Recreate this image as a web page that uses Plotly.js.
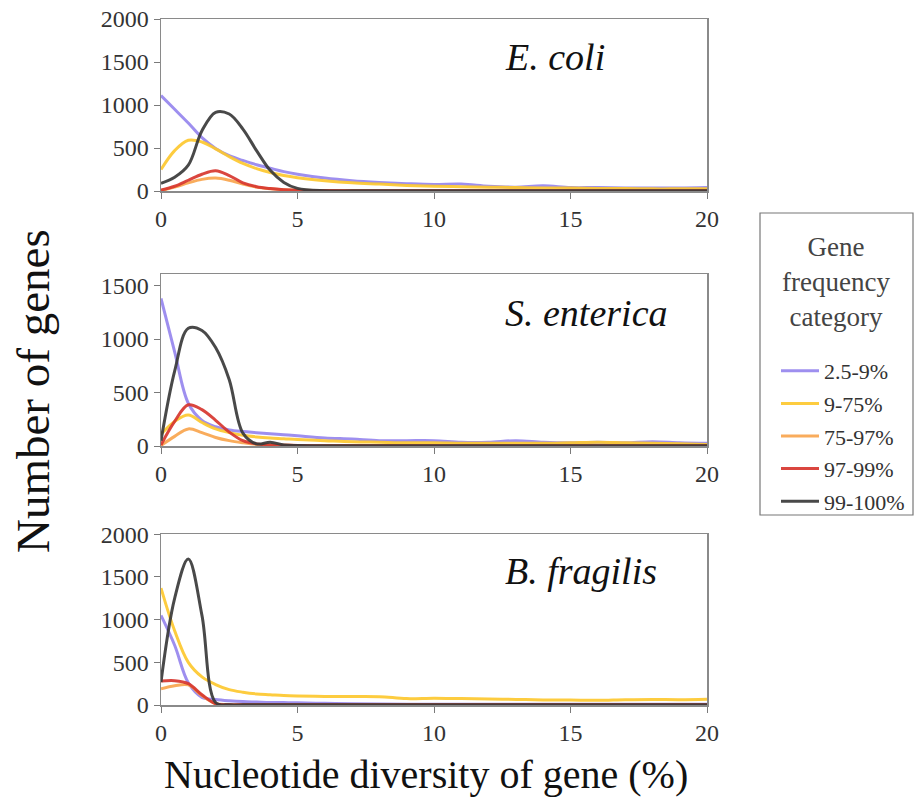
<!DOCTYPE html>
<html>
<head>
<meta charset="utf-8">
<script src="https://cdn.plot.ly/plotly-3.0.1.min.js"></script>
<style>html,body{margin:0;padding:0;background:#fff;}#chart{width:916px;height:808px;}</style>
</head>
<body>
<div id="chart"></div>
<script>
// Nucleotide diversity of gene (%)
const diversity = [0,0.5,1,1.5,2,2.5,3,3.5,4,4.5,5,6,7,8,9,10,11,12,13,14,15,16,17,18,19,20];
const categories = ["2.5-9%","9-75%","75-97%","97-99%","99-100%"];
const species = ["E. coli","S. enterica","B. fragilis"];
const legendTitle = "Gene<br>frequency<br>category";

// E. coli
const ecoli_2_5_9   = [1110,950,790,620,495,410,355,305,265,225,195,150,120,100,85,75,80,55,45,60,40,40,35,35,35,40];
const ecoli_9_75    = [250,470,590,570,490,400,320,260,215,180,155,120,95,80,65,55,50,45,40,35,35,30,30,25,25,25];
const ecoli_75_97   = [5,45,95,135,150,125,80,45,25,15,10,5,3,3,3,3,3,3,3,3,3,3,3,3,3,3];
const ecoli_97_99   = [10,55,125,195,235,180,95,50,28,15,8,5,3,3,3,3,3,3,3,3,3,3,3,3,3,3];
const ecoli_99_100  = [90,160,300,700,915,895,720,470,240,100,30,3,2,2,2,2,2,2,2,2,2,2,2,2,2,2];

// S. enterica
const sent_2_5_9    = [1380,880,400,240,180,150,135,125,115,105,95,75,65,50,50,50,35,35,50,35,30,35,30,40,30,25];
const sent_9_75     = [110,230,290,220,160,125,100,85,75,68,60,50,40,35,30,30,25,25,25,25,30,35,30,25,20,15];
const sent_75_97    = [5,90,160,125,80,50,30,15,10,7,5,3,3,3,3,3,3,3,3,3,3,3,3,3,3,3];
const sent_97_99    = [10,230,385,340,240,130,50,20,10,7,5,3,3,3,3,3,3,3,3,3,3,3,3,3,3,3];
const sent_99_100   = [50,700,1100,1080,920,620,120,20,35,10,5,3,2,2,2,2,2,2,2,2,2,2,2,2,2,2];

// B. fragilis
const bfrag_2_5_9   = [1050,700,260,90,65,50,40,35,30,28,25,20,15,12,10,10,10,10,10,10,10,10,10,10,10,10];
const bfrag_9_75    = [1370,870,500,330,240,180,150,130,120,110,105,100,100,98,75,80,75,70,65,60,58,55,62,65,62,68];
const bfrag_75_97   = [190,225,235,110,15,5,2,2,2,2,2,2,2,2,2,2,2,2,2,2,2,2,2,2,2,2];
const bfrag_97_99   = [280,285,250,120,15,2,2,2,2,2,2,2,2,2,2,2,2,2,2,2,2,2,2,2,2,2];
const bfrag_99_100  = [270,1250,1710,1050,30,2,2,2,2,2,2,2,2,2,2,2,2,2,2,2,2,2,2,2,2,2];

const colors = ["#9686ee","#fdc82f","#f9a54e","#d7362f","#3a3a3a"];
const panels = [
  [ecoli_2_5_9, ecoli_9_75, ecoli_75_97, ecoli_97_99, ecoli_99_100],
  [sent_2_5_9, sent_9_75, sent_75_97, sent_97_99, sent_99_100],
  [bfrag_2_5_9, bfrag_9_75, bfrag_75_97, bfrag_97_99, bfrag_99_100]
];

const serif = "Liberation Serif";
const traces = [];
panels.forEach((series, p) => {
  series.forEach((vals, i) => {
    traces.push({
      type: "scatter", mode: "lines",
      x: diversity, y: vals,
      name: categories[i],
      legendgroup: categories[i],
      showlegend: p === 0,
      line: {color: colors[i], width: 3, shape: "spline", smoothing: 1},
      opacity: 0.92,
      xaxis: p === 0 ? "x" : "x" + (p + 1),
      yaxis: p === 0 ? "y" : "y" + (p + 1),
      hoverinfo: "skip"
    });
  });
});

// pixel helpers for layout placement (plot area 161..707 x 19..705)
const L = 161, R = 707, T = 19, B = 705;
const W = 916, H = 808;
const px = x => (x - L) / (R - L);
const py = y => (B - y) / (B - T);

function xAxis(anchor) {
  return {
    domain: [0, 1], anchor: anchor,
    range: [0, 20], tickvals: [0,5,10,15,20], ticks: "outside", ticklen: 6,
    tickcolor: "#7a7a7a", showline: true, linecolor: "#8a8a8a", linewidth: 1.5,
    mirror: true, showgrid: false, zeroline: false, fixedrange: true,
    tickfont: {family: serif, size: 24, color: "#333"}
  };
}
function yAxis(anchor, top, bottom, max, vals) {
  return {
    domain: [py(bottom), py(top)], anchor: anchor, range: [0, max], tickvals: vals,
    ticks: "outside", ticklen: 6, tickcolor: "#7a7a7a", showline: true,
    linecolor: "#8a8a8a", linewidth: 1.5, mirror: true, showgrid: false,
    zeroline: false, fixedrange: true,
    tickfont: {family: serif, size: 24, color: "#333"}
  };
}

const layout = {
  width: W, height: H,
  margin: {l: L, r: W - R, t: T, b: H - B, autoexpand: false},
  paper_bgcolor: "#fff", plot_bgcolor: "#fff",
  font: {family: serif, size: 24, color: "#333"},
  showlegend: true,
  legend: {
    xref: "container", yref: "container",
    x: 776 / W, xanchor: "left", y: 1 - 350 / H, yanchor: "top",
    bgcolor: "rgba(0,0,0,0)", borderwidth: 0,
    traceorder: "grouped", tracegroupgap: 1, itemwidth: 38,
    font: {family: serif, size: 22, color: "#333"}
  },
  xaxis:  xAxis("y"),
  xaxis2: xAxis("y2"),
  xaxis3: xAxis("y3"),
  yaxis:  yAxis("x", 19, 191, 2000, [0,500,1000,1500,2000]),
  yaxis2: yAxis("x2", 274, 446, 1608, [0,500,1000,1500]),
  yaxis3: yAxis("x3", 534.3, 705, 2000, [0,500,1000,1500,2000]),
  shapes: [
    {type: "rect", xref: "paper", yref: "paper", x0: px(760), x1: px(913), y0: py(515), y1: py(213),
     line: {color: "#777", width: 1.2}, fillcolor: "rgba(0,0,0,0)"}
  ],
  annotations: [
    {text: legendTitle, xref: "paper", yref: "paper", x: px(836), y: py(282), xanchor: "center", yanchor: "middle", align: "center", showarrow: false, font: {family: serif, size: 27, color: "#444"}},
    {text: "<i>" + species[0] + "</i>", xref: "paper", yref: "paper", x: px(503), y: py(57), xanchor: "left", yanchor: "middle", showarrow: false, font: {family: serif, size: 38, color: "#111"}},
    {text: "<i>" + species[1] + "</i>", xref: "paper", yref: "paper", x: px(503), y: py(313), xanchor: "left", yanchor: "middle", showarrow: false, font: {family: serif, size: 38, color: "#111"}},
    {text: "<i>" + species[2] + "</i>", xref: "paper", yref: "paper", x: px(503), y: py(571), xanchor: "left", yanchor: "middle", showarrow: false, font: {family: serif, size: 38, color: "#111"}},
    {text: "Number of genes", xref: "paper", yref: "paper", x: px(33), y: py(391), xanchor: "center", yanchor: "middle", textangle: -90, showarrow: false, font: {family: serif, size: 47, color: "#111"}},
    {text: "Nucleotide diversity of gene (%)", xref: "paper", yref: "paper", x: px(426), y: py(775), xanchor: "center", yanchor: "middle", showarrow: false, font: {family: serif, size: 40, color: "#111"}}
  ]
};

Plotly.newPlot("chart", traces, layout, {displayModeBar: false, staticPlot: true});
</script>
</body>
</html>
